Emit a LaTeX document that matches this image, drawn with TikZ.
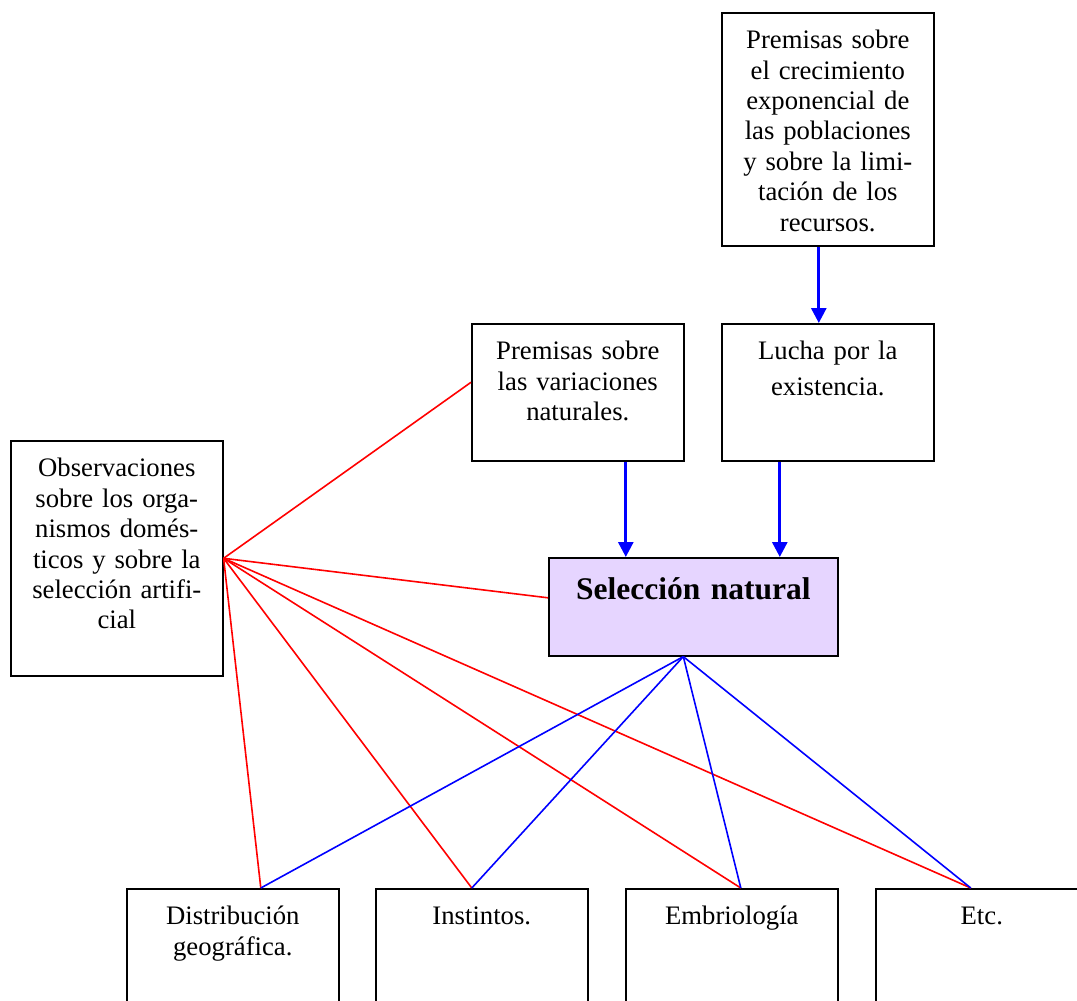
\documentclass[tikz,border=0pt]{standalone}
\usepackage{fontspec}
\setmainfont{Liberation Serif}
\usetikzlibrary{arrows.meta, positioning, calc}
\definecolor{selFill}{HTML}{E6D5FF}
\definecolor{linkRed}{HTML}{FF0000}
\definecolor{linkBlue}{HTML}{0000FF}
\tikzset{
  >={Triangle[length=15pt, width=15pt]},
  box/.style={draw, line width=1.6pt, anchor=north west, align=center,
    text width=200pt, inner xsep=6pt, inner ysep=16pt, text height=20pt,
    font=\fontsize{26.7}{30.4}\selectfont},
  selbox/.style={box, fill=selFill, text width=277pt, text height=26pt,
    font=\fontsize{31.5}{36}\selectfont\bfseries},
  flow/.style={->, line width=2.8pt, draw=linkBlue},
  redlink/.style={line width=1.6pt, draw=linkRed},
  bluelink/.style={line width=1.6pt, draw=linkBlue},
}

\begin{document}
\begin{tikzpicture}[x=1pt, y=-1pt]
  \useasboundingbox (0,0) rectangle (1077,1001);

  % ---- Premises and struggle for existence ---------------------------------
  \node[box, text depth=181pt] (premCrec) at (721,12)
    {Premisas sobre\\el crecimiento\\exponencial de\\las poblaciones\\y sobre la limi-\\tación de los\\recursos.};
  \node[box, text depth=85pt] (premVar) at (471,323)
    {Premisas sobre\\las variaciones\\naturales.};
  \node[box, text depth=85pt] (lucha) at (721,323)
    {Lucha por la\\[5pt]existencia.};

  % ---- Observations and natural selection ----------------------------------
  \node[box, text depth=183pt] (obs) at (10,440)
    {Observaciones\\sobre los orga-\\nismos domés-\\ticos y sobre la\\selección artifi-\\cial};
  \node[selbox, text depth=40pt] (selec) at (548,557) {Selección natural};

  % ---- Bottom row: fields explained ----------------------------------------
  \node[box, text depth=78pt] (dist) at (126,888) {Distribución\\geográfica.};
  \node[box, text depth=78pt] (inst) at (375,888) {Instintos.};
  \node[box, text depth=78pt] (embr) at (625,888) {Embriología};
  \node[box, text depth=78pt] (etc)  at (875,888) {Etc.};

  % ---- Arrows ---------------------------------------------------------------
  \coordinate (crecOut) at ([xshift=-9]premCrec.south);
  \coordinate (varOut)  at ([xshift=48]premVar.south);
  \coordinate (luchaOut) at ([xshift=-48]lucha.south);
  \draw[flow] (crecOut) -- (crecOut |- lucha.north);
  \draw[flow] (varOut) -- (varOut |- selec.north);
  \draw[flow] (luchaOut) -- (luchaOut |- selec.north);

  % ---- Red links from the observations -------------------------------------
  \draw[redlink] (obs.east) -- ([yshift=10]premVar.west);
  \draw[redlink] (obs.east) -- ([yshift=9]selec.west);
  \draw[redlink] (obs.east) -- ([xshift=28]dist.north);
  \draw[redlink] (obs.east) -- ([xshift=-10]inst.north);
  \draw[redlink] (obs.east) -- ([xshift=9]embr.north);
  \draw[redlink] (obs.east) -- ([xshift=-11]etc.north);

  % ---- Blue links from natural selection -----------------------------------
  \draw[bluelink] ([xshift=-10]selec.south) -- ([xshift=28]dist.north);
  \draw[bluelink] ([xshift=-10]selec.south) -- ([xshift=-10]inst.north);
  \draw[bluelink] ([xshift=-10]selec.south) -- ([xshift=9]embr.north);
  \draw[bluelink] ([xshift=-10]selec.south) -- ([xshift=-11]etc.north);

\end{tikzpicture}
\end{document}
